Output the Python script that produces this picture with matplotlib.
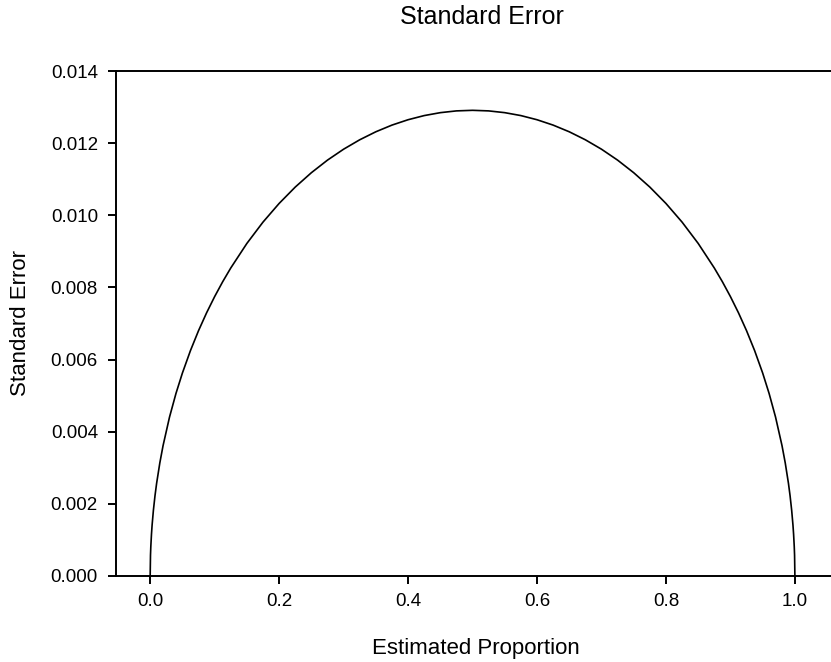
import matplotlib
matplotlib.use("Agg")
import matplotlib.pyplot as plt

plt.rcParams['font.family'] = ['Liberation Sans', 'DejaVu Sans']

# Estimated proportion and standard error values
proportion = [0.0, 0.0005, 0.001, 0.002, 0.003, 0.005, 0.0075, 0.01, 0.015, 0.02, 0.03, 0.04,
              0.05, 0.0625, 0.075, 0.0875, 0.1, 0.1125, 0.125, 0.15, 0.175, 0.2, 0.225,
              0.25, 0.275, 0.3, 0.325, 0.35, 0.375, 0.4, 0.425, 0.45, 0.475, 0.5,
              0.525, 0.55, 0.575, 0.6, 0.625, 0.65, 0.675, 0.7, 0.725, 0.75, 0.775,
              0.8, 0.825, 0.85, 0.875, 0.8875, 0.9, 0.9125, 0.925, 0.9375, 0.95,
              0.96, 0.97, 0.98, 0.985, 0.99, 0.9925, 0.995, 0.997, 0.998, 0.999, 0.9995, 1.0]
std_error = [0.0, 0.000577, 0.000816, 0.001153, 0.001412, 0.001821, 0.002228, 0.002569, 0.003138, 0.003615, 0.004405, 0.005060,
             0.005627, 0.006250, 0.006801, 0.007296, 0.007746, 0.008159, 0.008539, 0.009220, 0.009811, 0.010328, 0.010782,
             0.011180, 0.011529, 0.011832, 0.012093, 0.012315, 0.012500, 0.012649, 0.012764, 0.012845, 0.012894, 0.012910,
             0.012894, 0.012845, 0.012764, 0.012649, 0.012500, 0.012315, 0.012093, 0.011832, 0.011529, 0.011180, 0.010782,
             0.010328, 0.009811, 0.009220, 0.008539, 0.008159, 0.007746, 0.007296, 0.006801, 0.006250, 0.005627,
             0.005060, 0.004405, 0.003615, 0.003138, 0.002569, 0.002228, 0.001821, 0.001412, 0.001153, 0.000816, 0.000577, 0.0]

x_ticks = [0.0, 0.2, 0.4, 0.6, 0.8, 1.0]
y_ticks = [0.000, 0.002, 0.004, 0.006, 0.008, 0.010, 0.012, 0.014]

W, H = 831, 662
fig = plt.figure(figsize=(W / 100, H / 100), dpi=100)
ax = fig.add_axes([116 / W, 1 - 576 / H, 1 - 116 / W, (576 - 71) / H])

ax.plot(proportion, std_error, color='black', linewidth=1.2)

ax.set_xlim(-0.053, 1.056)
ax.set_ylim(0, 0.014)
ax.set_xticks(x_ticks)
ax.set_xticklabels([f"{v:.1f}" for v in x_ticks])
ax.set_yticks(y_ticks)
ax.set_yticklabels([f"{v:.3f}" for v in y_ticks])

ax.spines['right'].set_visible(False)
for s in ['left', 'bottom', 'top']:
    ax.spines[s].set_linewidth(1.4)
ax.tick_params(direction='out', length=5.5, width=1.4, labelsize=13.5)
ax.tick_params(axis='y', pad=7.5)
ax.tick_params(axis='x', pad=7)

fig.text(476 / W, 1 - 654 / H, "Estimated Proportion", ha='center', va='baseline', fontsize=16)
fig.text(21 / W, 1 - 323 / H, "Standard Error", ha='center', va='center', rotation=90, fontsize=16)
fig.text(482 / W, 1 - 24.5 / H, "Standard Error", ha='center', va='baseline', fontsize=18)

fig.savefig("out.png", dpi=100)
